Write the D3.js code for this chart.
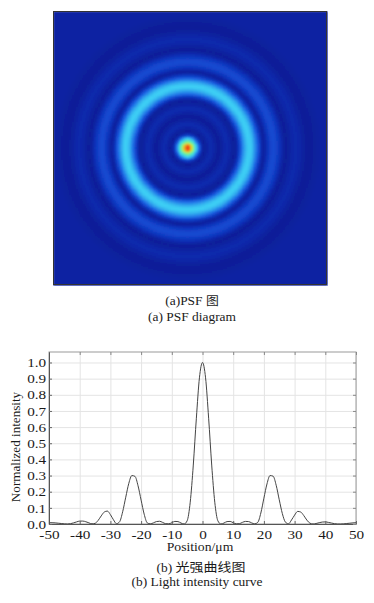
<!DOCTYPE html>
<html>
<head>
<meta charset="utf-8">
<script src="https://cdn.jsdelivr.net/npm/d3@7"></script>
<style>
body{margin:0;background:#fff;}
svg{display:block;}
</style>
</head>
<body>
<svg width="374" height="603"></svg>
<script>
// sample positions (um) and normalized intensity
const positions = d3.range(-50, 51);
const intensity = [
  0.008, 0.008, 0.007, 0.005, 0.003, 0.001, 0.000, 0.002, 0.007, 0.013,  // -50..-41
  0.018, 0.018, 0.014, 0.007, 0.001, 0.004, 0.022, 0.050, 0.074, 0.080,  // -40..-31
  0.058, 0.026, 0.002, 0.014, 0.076, 0.166, 0.252, 0.300, 0.295, 0.237,  // -30..-21
  0.148, 0.061, 0.007, 0.001, 0.007, 0.015, 0.017, 0.010, 0.002, 0.001,  // -20..-11
  0.008, 0.016, 0.015, 0.006, 0.000, 0.020, 0.135, 0.365, 0.655, 0.905,  // -10..-1
  1.000,                                                                  // 0
  0.905, 0.655, 0.365, 0.135, 0.020, 0.000, 0.006, 0.015, 0.016, 0.008,  // 1..10
  0.001, 0.002, 0.010, 0.016, 0.015, 0.007, 0.001, 0.010, 0.068, 0.160,  // 11..20
  0.248, 0.300, 0.296, 0.240, 0.150, 0.065, 0.012, 0.001, 0.025, 0.055,  // 21..30
  0.078, 0.074, 0.052, 0.024, 0.005, 0.000, 0.003, 0.008, 0.012, 0.013,  // 31..40
  0.010, 0.006, 0.002, 0.000, 0.000, 0.001, 0.003, 0.005, 0.007, 0.008   // 41..50
];
const xTicks = [-50, -40, -30, -20, -10, 0, 10, 20, 30, 40, 50];
const yTicks = [0, 0.1, 0.2, 0.3, 0.4, 0.5, 0.6, 0.7, 0.8, 0.9, 1.0];
const psfCenter = [-0.9, 0];   // pattern centre in the PSF image, um
const colorStops = [0, 0.02, 0.06, 0.12, 0.3, 0.5, 0.7, 0.85, 1];
const colorRange = ["#0a1e98", "#0c2cb2", "#1240c8", "#1c62e4", "#3ccff4",
                    "#50f0b0", "#b8f040", "#f8a020", "#e82010"];

const svg = d3.select("svg");
const serif = "'Liberation Serif', 'Times New Roman', serif";
const cjk = "'Noto Sans CJK SC', sans-serif";
const sx = 1.12;   // the source text is a little stretched sideways

function addText(x, y, size, anchor, stretch) {
  return svg.append("text")
    .attr("transform", `translate(${x},${y}) scale(${stretch},1)`)
    .attr("font-family", serif)
    .attr("font-size", size)
    .attr("text-anchor", anchor)
    .attr("fill", "#1a1a1a");
}

// ---------- (a) PSF image ----------
const px = d3.scaleLinear().domain([-50, 50]).range([53, 327]);
const py = d3.scaleLinear().domain([-50, 50]).range([11, 285]);
const color = d3.scaleLinear().domain(colorStops).range(colorRange).clamp(true);

// radial profile from both halves of the curve
const radial = d3.range(0, 51).map(k => (intensity[50 + k] + intensity[50 - k]) / 2);
const radialAt = r => {
  if (r >= 50) return radial[50];
  const k = Math.floor(r), t = r - k;
  return radial[k] * (1 - t) + radial[k + 1] * t;
};

const defs = svg.append("defs");
defs.append("filter").attr("id", "soft")
  .attr("x", 0).attr("y", 0).attr("width", 1).attr("height", 1)
  .append("feGaussianBlur").attr("stdDeviation", 1).attr("edgeMode", "duplicate");

const step = 0.5;
const cells = [];
d3.range(-50, 50, step).forEach(i => {
  d3.range(-50, 50, step).forEach(j => {
    const cx = i + step / 2, cy = j + step / 2;
    cells.push({i, j, v: radialAt(Math.hypot(cx - psfCenter[0], cy - psfCenter[1]))});
  });
});

const cw = px(step) - px(0);
svg.append("g").attr("filter", "url(#soft)")
  .attr("shape-rendering", "crispEdges")
  .selectAll("rect").data(cells).enter()
  .append("rect")
  .attr("x", d => px(d.i))
  .attr("y", d => py(d.j))
  .attr("width", cw + 0.6)
  .attr("height", cw + 0.6)
  .attr("fill", d => color(d.v));

svg.append("rect")
  .attr("x", 53.5).attr("y", 11.5)
  .attr("width", 273).attr("height", 273)
  .attr("fill", "none").attr("stroke", "#333").attr("stroke-width", 1);

const capA = addText(192, 305, 12, "middle", sx);
capA.append("tspan").text("(a)PSF ");
capA.append("tspan").attr("font-family", cjk).attr("font-size", 11.5).text("图");
addText(192, 321, 12, "middle", sx).text("(a) PSF diagram");

// ---------- (b) intensity curve ----------
const x = d3.scaleLinear().domain([-50, 50]).range([49, 356]);
const y = d3.scaleLinear().domain([0, 1.065]).range([524, 352]);

// grid
svg.append("g").attr("transform", `translate(0,${y(0)})`)
  .call(d3.axisBottom(x).tickValues(xTicks).tickSize(-(y(0) - y.range()[1])).tickFormat(""))
  .call(g => g.select(".domain").remove())
  .call(g => g.selectAll("line").attr("stroke", "#e4e4e4"));
svg.append("g").attr("transform", `translate(${x(-50)},0)`)
  .call(d3.axisLeft(y).tickValues(yTicks).tickSize(-(x(50) - x(-50))).tickFormat(""))
  .call(g => g.select(".domain").remove())
  .call(g => g.selectAll("line").attr("stroke", "#e4e4e4"));

// frame
svg.append("rect")
  .attr("x", x(-50)).attr("y", y.range()[1])
  .attr("width", x(50) - x(-50)).attr("height", y(0) - y.range()[1])
  .attr("fill", "none").attr("stroke", "#9a9a9a");

// curve
const line = d3.line()
  .x((d, i) => x(positions[i]))
  .y(d => y(d))
  .curve(d3.curveMonotoneX);
svg.append("path")
  .attr("d", line(intensity))
  .attr("fill", "none")
  .attr("stroke", "#444")
  .attr("stroke-width", 1);

// axes
svg.append("g").attr("transform", `translate(0,${y(0)})`)
  .call(d3.axisBottom(x).tickValues(xTicks).tickSizeInner(-3).tickSizeOuter(0)
    .tickPadding(6).tickFormat(d => String(d)))
  .call(g => g.select(".domain").attr("stroke", "#555"))
  .call(g => g.selectAll("line").attr("stroke", "#666"))
  .call(g => g.selectAll("text")
    .attr("font-family", serif)
    .attr("font-size", 13).attr("fill", "#1a1a1a")
    .attr("transform", "scale(1.17,1)"));
svg.append("g").attr("transform", `translate(0,${y.range()[1]})`)
  .call(d3.axisTop(x).tickValues(xTicks).tickSizeInner(-3).tickSizeOuter(0).tickFormat(""))
  .call(g => g.select(".domain").remove())
  .call(g => g.selectAll("line").attr("stroke", "#888"));

svg.append("g").attr("transform", `translate(${x(-50)},0)`)
  .call(d3.axisLeft(y).tickValues(yTicks).tickSizeInner(-3).tickSizeOuter(0)
    .tickFormat(d3.format(".1f")))
  .call(g => g.select(".domain").attr("stroke", "#555"))
  .call(g => g.selectAll("line").attr("stroke", "#666"))
  .call(g => g.selectAll("text")
    .attr("x", -2.4)
    .attr("font-family", serif)
    .attr("font-size", 13).attr("fill", "#1a1a1a")
    .attr("transform", "scale(1.17,1)"));
svg.append("g").attr("transform", `translate(${x(50)},0)`)
  .call(d3.axisRight(y).tickValues(yTicks).tickSizeInner(-3).tickSizeOuter(0).tickFormat(""))
  .call(g => g.select(".domain").remove())
  .call(g => g.selectAll("line").attr("stroke", "#888"));

// titles
svg.append("text")
  .attr("transform", `translate(20,447) rotate(-90) scale(1.05,1)`)
  .attr("text-anchor", "middle")
  .attr("font-family", serif)
  .attr("font-size", 12.5)
  .attr("fill", "#1a1a1a")
  .text("Normalized intensity");

addText(200, 551, 12, "middle", 1.14).text("Position/\u03bcm");

const capB = addText(201, 572, 12, "middle", sx);
capB.append("tspan").text("(b) ");
capB.append("tspan").attr("font-family", cjk).attr("font-size", 12.5).text("光强曲线图");
addText(197, 586, 12, "middle", sx).text("(b) Light intensity curve");
</script>
</body>
</html>
